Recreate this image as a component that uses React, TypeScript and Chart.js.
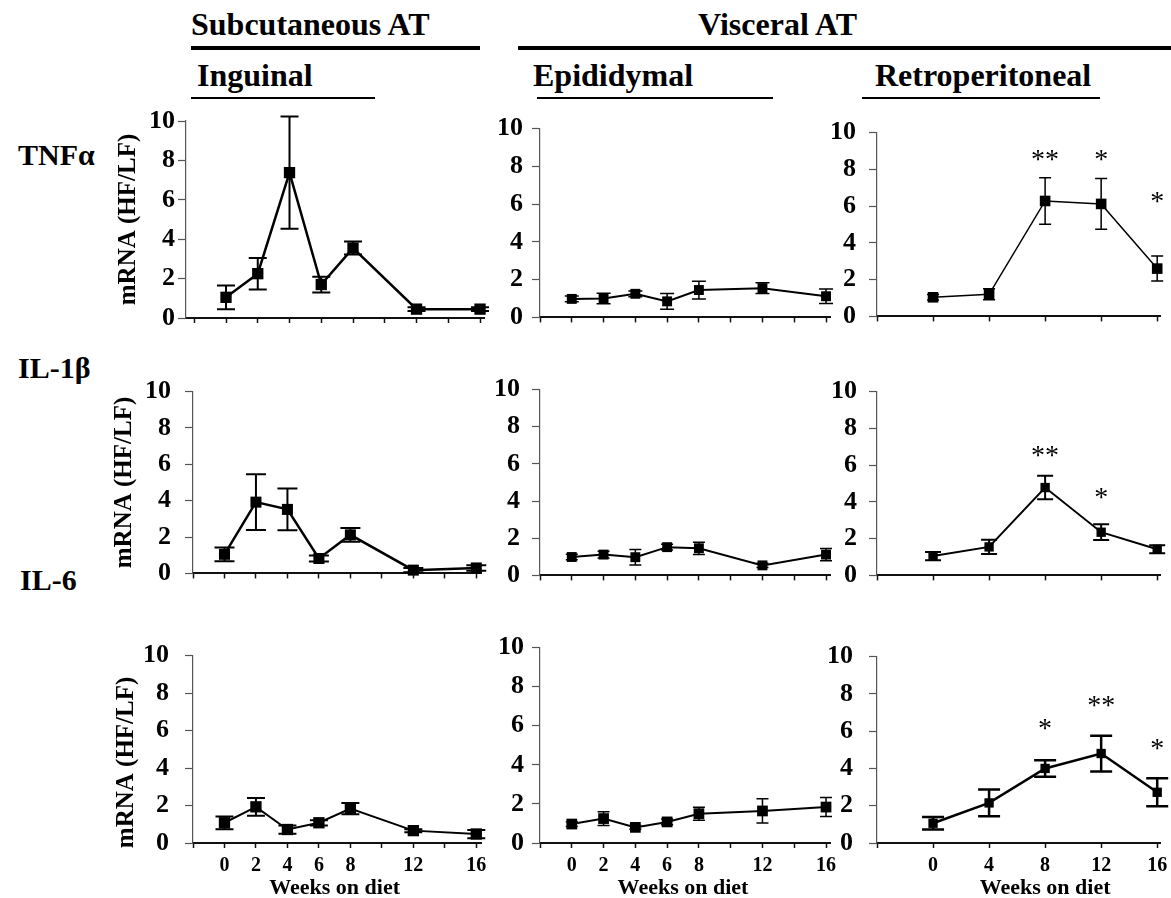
import React, { useEffect, useRef } from 'react';
import { Chart, registerables } from 'chart.js';

Chart.register(...registerables);

const SERIF = '"Liberation Serif", "Times New Roman", serif';

// ---------- data ----------
const weeksAll = [0, 2, 4, 6, 8, 12, 16];
const weeksRetro = [0, 4, 8, 12, 16];

const xTicksAll = [-2, 0, 2, 4, 6, 8, 10, 12, 14, 16];
const xTicksRetro = [-4, 0, 4, 8, 12, 16];
const xLabelsAll = [0, 2, 4, 6, 8, 12, 16];
const xLabelsRetro = [0, 4, 8, 12, 16];
const yTickValues = [0, 2, 4, 6, 8, 10];

const rowLabels = ['TNFα', 'IL-1β', 'IL-6'];
const groupLabels = ['Subcutaneous AT', 'Visceral AT'];
const depotLabels = ['Inguinal', 'Epididymal', 'Retroperitoneal'];
const xTitle = 'Weeks on diet';
const yTitle = 'mRNA (HF/LF)';

// TNFα
const tnfIng = [1.05, 2.25, 7.38, 1.7, 3.55, 0.45, 0.45];
const tnfIngErr = [0.6, 0.8, 2.85, 0.4, 0.33, 0.1, 0.1];
const tnfEpi = [0.98, 1.0, 1.25, 0.85, 1.45, 1.55, 1.12];
const tnfEpiErr = [0.15, 0.28, 0.15, 0.42, 0.47, 0.28, 0.38];
const tnfRetro = [1.04, 1.2, 6.28, 6.12, 2.6];
const tnfRetroErr = [0.15, 0.3, 1.26, 1.38, 0.68];
const tnfRetroStars = ['', '', '**', '*', '*'];
const tnfRetroStarY = [0, 0, 8.44, 8.44, 6.19];

// IL-1β
const il1Ing = [1.05, 3.92, 3.52, 0.82, 2.12, 0.18, 0.3];
const il1IngErr = [0.38, 1.53, 1.15, 0.17, 0.38, 0.12, 0.15];
const il1Epi = [0.99, 1.12, 0.98, 1.52, 1.46, 0.54, 1.12];
const il1EpiErr = [0.15, 0.18, 0.42, 0.15, 0.33, 0.12, 0.33];
const il1Retro = [1.05, 1.55, 4.78, 2.35, 1.42];
const il1RetroErr = [0.22, 0.39, 0.64, 0.43, 0.22];
const il1RetroStars = ['', '', '**', '*', ''];
const il1RetroStarY = [0, 0, 6.45, 4.13, 0];

// IL-6
const il6Ing = [1.08, 1.93, 0.72, 1.08, 1.84, 0.66, 0.48];
const il6IngErr = [0.34, 0.47, 0.22, 0.14, 0.3, 0.08, 0.22];
const il6Epi = [0.97, 1.25, 0.8, 1.08, 1.5, 1.64, 1.84];
const il6EpiErr = [0.12, 0.35, 0.1, 0.15, 0.33, 0.62, 0.49];
const il6Retro = [1.06, 2.15, 4.0, 4.8, 2.72];
const il6RetroErr = [0.33, 0.72, 0.44, 0.96, 0.75];
const il6RetroStars = ['', '', '*', '**', '*'];
const il6RetroStarY = [0, 0, 6.08, 7.29, 4.97];

// ---------- layout / style ----------
type Rect = { l: number; t: number; r: number; b: number };
type Style = { lw: number; pr: number; cap: number; elw: number; ypad: number };
type PanelDef = {
  id: string;
  weeks: number[];
  values: number[];
  errors: number[];
  stars?: string[];
  starY?: number[];
  xTicks: number[];
  xLabels: number[];
  xMin: number;
  xMax: number;
  rect: Rect;
  style: Style;
  showXLabels: boolean;
  xTitleAt?: number;
  yTitleDx?: number;
  yTitleAt?: number;
};

const panels: PanelDef[] = [
  { id: 'r1l', weeks: weeksAll, values: tnfIng, errors: tnfIngErr, xTicks: xTicksAll, xLabels: xLabelsAll, xMin: -2.52, xMax: 16.25,
    rect: { l: 186, t: 121, r: 484, b: 318 }, style: { lw: 2.5, pr: 8, cap: 9, elw: 2, ypad: 3 }, showXLabels: false, yTitleDx: -57.5, yTitleAt: 5 },
  { id: 'r1m', weeks: weeksAll, values: tnfEpi, errors: tnfEpiErr, xTicks: xTicksAll, xLabels: xLabelsAll, xMin: -2, xMax: 16.25,
    rect: { l: 540, t: 126, r: 830, b: 322 }, style: { lw: 2, pr: 7, cap: 7, elw: 1.5, ypad: 9 }, showXLabels: false },
  { id: 'r1r', weeks: weeksRetro, values: tnfRetro, errors: tnfRetroErr, stars: tnfRetroStars, starY: tnfRetroStarY, xTicks: xTicksRetro, xLabels: xLabelsRetro, xMin: -4, xMax: 16.2,
    rect: { l: 877, t: 126, r: 1160, b: 325 }, style: { lw: 1.5, pr: 7.5, cap: 6, elw: 1.5, ypad: 13 }, showXLabels: false },

  { id: 'r2l', weeks: weeksAll, values: il1Ing, errors: il1IngErr, xTicks: xTicksAll, xLabels: xLabelsAll, xMin: -2, xMax: 16.3,
    rect: { l: 193, t: 384, r: 481, b: 583 }, style: { lw: 2.5, pr: 7.8, cap: 10, elw: 2, ypad: 14 }, showXLabels: false, yTitleDx: -68, yTitleAt: 5 },
  { id: 'r2m', weeks: weeksAll, values: il1Epi, errors: il1EpiErr, xTicks: xTicksAll, xLabels: xLabelsAll, xMin: -2, xMax: 16.25,
    rect: { l: 540, t: 384, r: 830, b: 583 }, style: { lw: 2, pr: 7, cap: 6, elw: 1.5, ypad: 12 }, showXLabels: false },
  { id: 'r2r', weeks: weeksRetro, values: il1Retro, errors: il1RetroErr, stars: il1RetroStars, starY: il1RetroStarY, xTicks: xTicksRetro, xLabels: xLabelsRetro, xMin: -4, xMax: 16.2,
    rect: { l: 877, t: 386, r: 1160, b: 583 }, style: { lw: 2, pr: 6.6, cap: 8, elw: 2, ypad: 12 }, showXLabels: false },

  { id: 'r3l', weeks: weeksAll, values: il6Ing, errors: il6IngErr, xTicks: xTicksAll, xLabels: xLabelsAll, xMin: -2, xMax: 16.3,
    rect: { l: 193, t: 646, r: 481, b: 843 }, style: { lw: 2, pr: 8, cap: 9, elw: 2, ypad: 16 }, showXLabels: true, xTitleAt: 7, yTitleDx: -66, yTitleAt: 4.3 },
  { id: 'r3m', weeks: weeksAll, values: il6Epi, errors: il6EpiErr, xTicks: xTicksAll, xLabels: xLabelsAll, xMin: -2, xMax: 16.25,
    rect: { l: 540, t: 646, r: 830, b: 843 }, style: { lw: 2, pr: 7.6, cap: 6, elw: 1.5, ypad: 8 }, showXLabels: true, xTitleAt: 7 },
  { id: 'r3r', weeks: weeksRetro, values: il6Retro, errors: il6RetroErr, stars: il6RetroStars, starY: il6RetroStarY, xTicks: xTicksRetro, xLabels: xLabelsRetro, xMin: -4, xMax: 16.2,
    rect: { l: 877, t: 647, r: 1160, b: 843 }, style: { lw: 2.5, pr: 6.6, cap: 11, elw: 2.5, ypad: 16 }, showXLabels: true, xTitleAt: 8 },
];

function makeOverlay(p: PanelDef) {
  return {
    id: 'overlay_' + p.id,
    afterDatasetsDraw(chart: any) {
      const ctx = chart.ctx as CanvasRenderingContext2D;
      const xs = chart.scales.x;
      const ys = chart.scales.y;
      ctx.save();
      // error bars
      ctx.strokeStyle = '#000';
      ctx.lineWidth = p.style.elw;
      const cap = p.style.cap;
      p.weeks.forEach((w, i) => {
        const x = xs.getPixelForValue(w);
        const yHi = ys.getPixelForValue(p.values[i] + p.errors[i]);
        const yLo = ys.getPixelForValue(p.values[i] - p.errors[i]);
        ctx.beginPath();
        ctx.moveTo(x, yHi);
        ctx.lineTo(x, yLo);
        ctx.moveTo(x - cap, yHi);
        ctx.lineTo(x + cap, yHi);
        ctx.moveTo(x - cap, yLo);
        ctx.lineTo(x + cap, yLo);
        ctx.stroke();
      });
      // significance stars
      if (p.stars && p.starY) {
        ctx.fillStyle = '#000';
        ctx.font = `28px ${SERIF}`;
        ctx.textAlign = 'center';
        ctx.textBaseline = 'alphabetic';
        p.stars.forEach((s, i) => {
          if (!s) return;
          ctx.fillText(s, xs.getPixelForValue(p.weeks[i]), ys.getPixelForValue(p.starY![i]) + 7);
        });
      }
      // x title
      if (p.xTitleAt !== undefined) {
        ctx.fillStyle = '#000';
        ctx.font = `bold 22px ${SERIF}`;
        ctx.textAlign = 'center';
        ctx.textBaseline = 'alphabetic';
        ctx.fillText(xTitle, xs.getPixelForValue(p.xTitleAt), ys.bottom + 51);
      }
      // y title
      if (p.yTitleDx !== undefined) {
        ctx.save();
        ctx.translate(chart.chartArea.left + p.yTitleDx, ys.getPixelForValue(p.yTitleAt ?? 5));
        ctx.rotate(-Math.PI / 2);
        ctx.fillStyle = '#000';
        ctx.font = `bold 25px ${SERIF}`;
        ctx.textAlign = 'center';
        ctx.textBaseline = 'middle';
        ctx.fillText(yTitle, 0, 0);
        ctx.restore();
      }
      ctx.restore();
    },
  };
}

function Panel({ p }: { p: PanelDef }) {
  const ref = useRef<HTMLCanvasElement>(null);
  const padT = 22;
  const padR = 16;
  const canvasLeft = p.yTitleDx !== undefined ? 100 : p.rect.l - 62;
  const yw = p.rect.l - canvasLeft;
  const xh = p.showXLabels ? 898 - p.rect.b : 20;
  const width = Math.round(p.rect.r - canvasLeft + padR);
  const height = Math.round(padT + (p.rect.b - p.rect.t) + xh);

  useEffect(() => {
    const chart = new Chart(ref.current as HTMLCanvasElement, {
      type: 'line',
      data: {
        datasets: [
          {
            data: p.weeks.map((w, i) => ({ x: w, y: p.values[i] })),
            borderColor: '#000',
            borderWidth: p.style.lw,
            pointStyle: 'rect',
            pointRadius: p.style.pr,
            pointBackgroundColor: '#000',
            pointBorderColor: '#000',
            pointBorderWidth: 0,
            tension: 0,
            fill: false,
            clip: false as any,
          },
        ],
      },
      options: {
        responsive: false,
        animation: false,
        devicePixelRatio: 1,
        events: [],
        layout: { padding: { top: padT, right: padR, left: 0, bottom: 0 } },
        plugins: { legend: { display: false }, tooltip: { enabled: false } },
        scales: {
          x: {
            type: 'linear',
            min: p.xMin,
            max: p.xMax,
            afterBuildTicks: (s: any) => {
              s.ticks = p.xTicks.map((v) => ({ value: v }));
            },
            afterFit: (s: any) => {
              s.height = xh;
            },
            grid: { drawOnChartArea: false, drawTicks: true, tickLength: 5, tickColor: '#111', tickWidth: 1.5 },
            border: { display: true, color: '#111', width: 2 },
            ticks: {
              display: p.showXLabels,
              autoSkip: false,
              maxRotation: 0,
              padding: 6,
              color: '#000',
              font: { family: SERIF, size: 20, weight: 'bold' },
              callback: (v: any) => (p.xLabels.includes(Number(v)) ? String(v) : ''),
            },
          },
          y: {
            type: 'linear',
            min: 0,
            max: 10,
            afterBuildTicks: (s: any) => {
              s.ticks = yTickValues.map((v) => ({ value: v }));
            },
            afterFit: (s: any) => {
              s.width = yw;
            },
            grid: { drawOnChartArea: false, drawTicks: true, tickLength: 8, tickColor: '#555', tickWidth: 1.2 },
            border: { display: true, color: '#555', width: 1.2 },
            ticks: {
              padding: p.style.ypad,
              color: '#000',
              font: { family: SERIF, size: 26, weight: 'bold' },
            },
          },
        },
      } as any,
      plugins: [makeOverlay(p)],
    });
    return () => chart.destroy();
  }, []);

  return (
    <canvas
      ref={ref}
      width={width}
      height={height}
      style={{ position: 'absolute', left: canvasLeft, top: p.rect.t - padT, width, height }}
    />
  );
}

function Text({ text, left, baseline, size }: { text: string; left: number; baseline: number; size: number }) {
  return (
    <div
      style={{
        position: 'absolute',
        left,
        top: baseline - 0.8375 * size,
        fontFamily: SERIF,
        fontWeight: 'bold',
        fontSize: size,
        lineHeight: 1,
        whiteSpace: 'nowrap',
        color: '#000',
      }}
    >
      {text}
    </div>
  );
}

function Rule({ left, right, top, h }: { left: number; right: number; top: number; h: number }) {
  return <div style={{ position: 'absolute', left, top, width: right - left, height: h, background: '#000' }} />;
}

export default function App() {
  return (
    <div style={{ position: 'absolute', left: 0, top: 0, width: 1171, height: 898, background: '#fff', overflow: 'hidden' }}>
      <Text text={groupLabels[0]} left={191} baseline={35} size={32} />
      <Text text={groupLabels[1]} left={698} baseline={35} size={32} />
      <Rule left={191} right={480} top={46} h={4} />
      <Rule left={518} right={1171} top={46} h={4} />
      <Text text={depotLabels[0]} left={197} baseline={86} size={32} />
      <Text text={depotLabels[1]} left={533} baseline={86} size={32} />
      <Text text={depotLabels[2]} left={875} baseline={86} size={32} />
      <Rule left={191} right={375} top={97} h={2} />
      <Rule left={537} right={773} top={97} h={2} />
      <Rule left={862} right={1100} top={97} h={2} />
      <Text text={rowLabels[0]} left={18} baseline={165} size={30} />
      <Text text={rowLabels[1]} left={18} baseline={378} size={30} />
      <Text text={rowLabels[2]} left={20} baseline={590} size={30} />
      {panels.map((p) => (
        <Panel key={p.id} p={p} />
      ))}
    </div>
  );
}
